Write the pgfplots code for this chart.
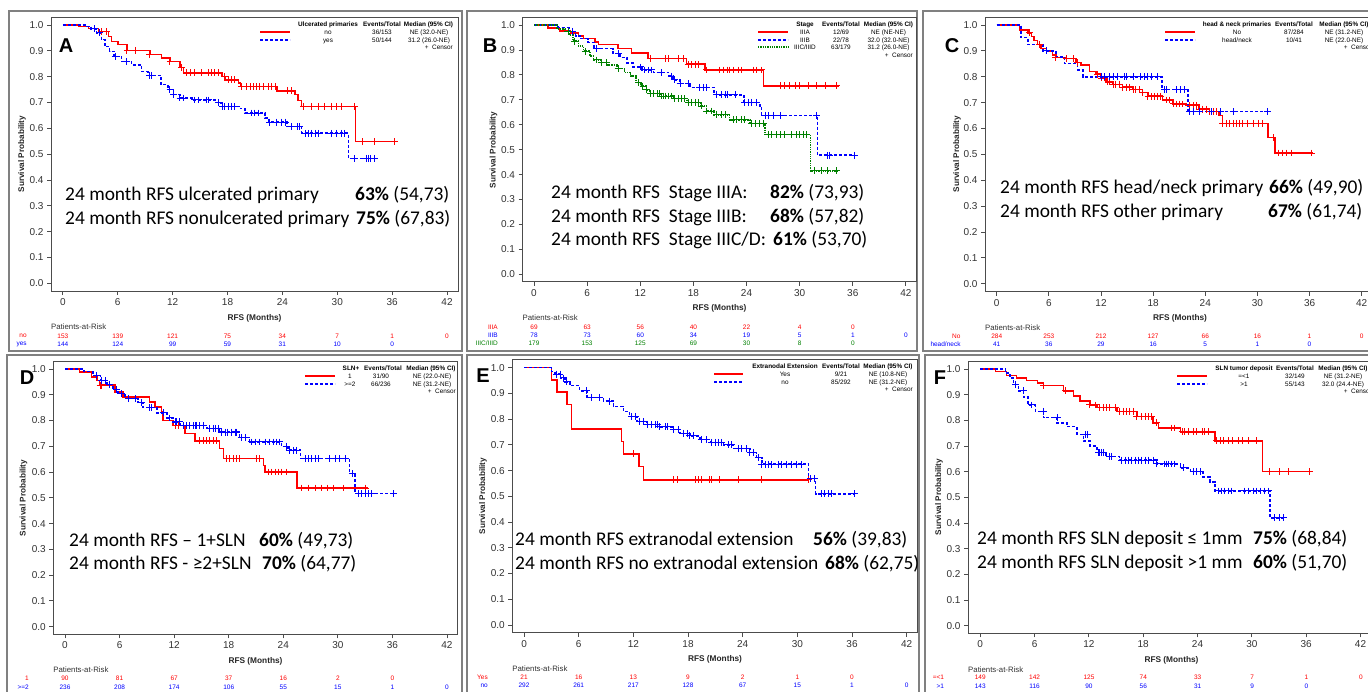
\documentclass[border=0pt]{standalone}
\usepackage{fontspec}
\setmainfont{Liberation Sans}
\newfontfamily\carlito{Carlito}
\usepackage{pgfplots}
\pgfplotsset{compat=1.18}

\definecolor{kmred}{RGB}{255,0,0}
\definecolor{kmblue}{RGB}{0,0,255}
\definecolor{kmgreen}{RGB}{0,128,0}
\definecolor{panelgray}{RGB}{128,128,128}

\newcommand\legf{\fontsize{6.4}{7}\selectfont}
\newcommand\legfb{\fontsize{6.4}{7}\selectfont\bfseries}
\newcommand\riskfont{\fontsize{6.5}{7}\selectfont}
\newcommand\bigtxt{\carlito\fontsize{19.4}{24}\selectfont}

% legend cell: x, baseline y, text
\newcommand\lcell[3]{\node[font=\legf,anchor=base,inner sep=0pt] at (#1pt,-#2pt) {#3};}
\newcommand\lhead[3]{\node[font=\legfb,anchor=base,inner sep=0pt] at (#1pt,-#2pt) {#3};}
% at-risk row: x0, px per 6 months, y, colour, label, values
\newcommand\atrisk[6]{%
  \node[anchor=east,text=#4,font=\riskfont,inner sep=0pt] at ({#1pt-36pt},{-#3pt}) {#5};
  \foreach \val [count=\i from 0] in {#6} {\node[text=#4,font=\riskfont,inner sep=0pt] at ({#1pt+\i*#2pt},{-#3pt}) {\val};}%
}
\newcommand\risktitle[2]{\node[anchor=west,font=\fontsize{7.8}{9}\selectfont,text=black!80,inner sep=0pt] at (#1pt,-#2pt) {Patients-at-Risk};}
\newcommand\xlab[2]{\node[font=\fontsize{8.3}{9}\selectfont\bfseries,text=black!85] at (#1pt,-#2pt) {RFS (Months)};}
\newcommand\ylab[2]{\node[rotate=90,font=\fontsize{8.2}{9}\selectfont\bfseries,text=black!85] at (#1pt,-#2pt) {Survival Probability};}
\newcommand\plabel[3]{\node[font=\fontsize{20}{22}\selectfont\bfseries] at (#1pt,-#2pt) {#3};}
\newcommand\annot[3]{\node[font=\bigtxt,anchor=base west,inner sep=0pt] at (#1pt,-#2pt) {#3};}

\pgfplotsset{
  km/.style={scale only axis, ymin=-0.03, ymax=1.031,
    xtick={0,6,...,42}, ytick={0,0.1,0.2,0.3,0.4,0.5,0.6,0.7,0.8,0.9,1},
    tick pos=left, tick align=outside, major tick length=4pt,
    axis line style={black!70,line width=0.9pt},
    every tick/.style={black!70,line width=0.9pt},
    yticklabel style={/pgf/number format/.cd,fixed,fixed zerofill,precision=1},
    /pgf/number format/assume math mode=true,
    tick label style={font=\fontsize{10}{12}\selectfont,text=black!80},
    anchor=north west},
  sred/.style={const plot, kmred, line width=1.5pt, mark=none},
  sblue/.style={const plot, kmblue, line width=1.5pt, mark=none, dash pattern=on 3pt off 2pt},
  sgreen/.style={const plot, kmgreen, line width=1.5pt, mark=none, dash pattern=on 1.3pt off 1pt},
  cred/.style={only marks, mark=+, mark size=3.4pt, kmred, mark options={line width=1pt,solid}},
  cblue/.style={only marks, mark=+, mark size=3.4pt, kmblue, mark options={line width=1pt,solid}},
  cgreen/.style={only marks, mark=+, mark size=3.4pt, kmgreen, mark options={line width=1pt,solid}},
}

\begin{document}
\begin{tikzpicture}
\useasboundingbox (0,0) rectangle (1368pt,-691pt);
\clip (0,0) rectangle (1368pt,-691pt);
\fill[white] (0,0) rectangle (1368pt,-691pt);

% panel frames
\begin{scope}[draw=panelgray, line width=1.5pt]
\draw (9pt,-11pt) rectangle (462pt,-351pt);
\draw (467pt,-11pt) rectangle (917pt,-351pt);
\draw (923pt,-11pt) rectangle (1390pt,-351pt);
\draw (7pt,-355pt) rectangle (462pt,-700pt);
\draw (467pt,-355pt) rectangle (919pt,-700pt);
\draw (925pt,-355pt) rectangle (1390pt,-700pt);
\end{scope}

%%%%%%%%%%%%%%%% A
\begin{axis}[km, at={(51pt,-17pt)}, width=407pt, height=274pt, xmin=-1.3, xmax=43.2]
\addplot[sred] coordinates {(0,1)(1.7,0.995)(2.8,0.986)(3.9,0.975)(5.0,0.956)(5.3,0.937)(6.05,0.924)(7.0,0.902)(9.5,0.885)(10.8,0.872)(11.7,0.859)(12.8,0.836)(13.2,0.815)(17.4,0.80)(17.7,0.788)(19.2,0.775)(19.4,0.762)(23.4,0.745)(25.4,0.73)(25.7,0.707)(26.1,0.685)(32.0,0.549)(36.5,0.549)};
\addplot[sblue] coordinates {(0,1)(2.6,0.995)(3.1,0.985)(3.7,0.97)(4.2,0.943)(4.6,0.917)(5.1,0.898)(5.6,0.879)(6.4,0.859)(7.5,0.846)(8.6,0.82)(9.3,0.805)(10.7,0.769)(11.5,0.75)(12.1,0.73)(12.8,0.717)(14.1,0.71)(17.0,0.698)(17.4,0.685)(19.4,0.676)(19.9,0.659)(22.1,0.64)(22.5,0.624)(24.5,0.607)(26.1,0.581)(31.2,0.484)(34.3,0.484)};
\addplot[cred] coordinates {(4.2,0.975)(4.8,0.975)(7.0,0.902)(7.9,0.902)(9.5,0.885)(11.7,0.859)(13.0,0.836)(13.5,0.815)(13.9,0.815)(14.4,0.815)(15.2,0.815)(15.9,0.815)(16.3,0.815)(16.6,0.815)(17.0,0.815)(17.7,0.80)(18.1,0.788)(18.4,0.788)(18.8,0.788)(19.5,0.762)(20.1,0.762)(20.5,0.762)(20.8,0.762)(21.2,0.762)(21.5,0.762)(21.9,0.762)(22.5,0.762)(22.8,0.762)(23.2,0.762)(24.6,0.745)(25.0,0.745)(26.3,0.685)(27.2,0.685)(27.9,0.685)(28.6,0.685)(29.4,0.685)(29.9,0.685)(30.5,0.685)(31.9,0.685)(32.8,0.549)(34.1,0.549)(36.3,0.549)};
\addplot[cblue] coordinates {(3.5,0.985)(4.0,0.97)(5.7,0.879)(7.0,0.859)(9.5,0.805)(9.7,0.805)(11.7,0.75)(12.1,0.73)(12.8,0.717)(13.2,0.717)(14.4,0.71)(14.8,0.71)(15.7,0.71)(15.9,0.71)(17.0,0.698)(17.4,0.685)(17.7,0.685)(18.1,0.685)(18.4,0.685)(18.8,0.685)(20.6,0.659)(21.0,0.659)(21.4,0.659)(22.6,0.624)(23.4,0.624)(23.9,0.624)(24.3,0.624)(25.0,0.607)(25.6,0.607)(25.9,0.607)(26.5,0.581)(26.8,0.581)(27.2,0.581)(27.6,0.581)(27.9,0.581)(29.4,0.581)(29.9,0.581)(30.5,0.581)(30.8,0.581)(31.9,0.484)(33.2,0.484)(33.4,0.484)(33.6,0.484)(34.1,0.484)};
\end{axis}
\plabel{66}{46}{A}
\ylab{22}{154}
\xlab{254.5}{318}
\lhead{328}{26}{Ulcerated primaries}\lhead{382}{26}{Events/Total}\lhead{428.5}{26}{Median (95\% CI)}
\draw[kmred,line width=1.4pt] (260pt,-32pt)--(290pt,-32pt);
\draw[kmblue,line width=1.4pt,dash pattern=on 3pt off 2pt] (260pt,-40pt)--(290pt,-40pt);
\lcell{328}{34}{no}\lcell{382}{34}{36/153}\lcell{429}{34}{NE (32.0-NE)}
\lcell{328}{42}{yes}\lcell{382}{42}{50/144}\lcell{429}{42}{31.2 (26.0-NE)}
\node[font=\legf,anchor=base east,inner sep=0pt] at (453pt,-49pt) {+\ \ Censor};
\annot{65}{200}{24 month RFS ulcerated primary}
\annot{355}{200}{\textbf{63\%} (54,73)}
\annot{65}{224}{24 month RFS nonulcerated primary}
\annot{356}{224}{\textbf{75\%} (67,83)}
\risktitle{51}{327}
\atrisk{62.9}{54.86}{336}{kmred}{no}{153,139,121,75,34,7,1,0}
\atrisk{62.9}{54.86}{344}{kmblue}{yes}{144,124,99,59,31,10,0}

%%%%%%%%%%%%%%%% B
\begin{axis}[km, at={(522.5pt,-17.3pt)}, width=394pt, height=264.5pt, xmin=-1.3, xmax=43.2]
\addplot[sred] coordinates {(0,1)(1.6,0.988)(2.9,0.977)(4.1,0.968)(5.0,0.955)(5.6,0.945)(6.9,0.932)(7.3,0.921)(9.5,0.905)(11.0,0.888)(12.9,0.865)(17.2,0.843)(19.3,0.82)(25.9,0.756)(34.4,0.756)};
\addplot[sblue] coordinates {(0,1)(2.7,0.99)(4.0,0.975)(4.7,0.955)(5.3,0.945)(6.1,0.93)(6.8,0.905)(8.9,0.885)(9.7,0.87)(10.5,0.847)(11.2,0.832)(12.2,0.82)(13.5,0.81)(15.2,0.795)(15.7,0.78)(16.5,0.765)(17.6,0.75)(20.3,0.73)(20.6,0.72)(23.7,0.69)(25.5,0.67)(25.7,0.638)(32.0,0.478)(36.2,0.478)};
\addplot[sgreen] coordinates {(0,1)(2.6,0.985)(3.5,0.975)(4.0,0.96)(4.4,0.935)(5.0,0.915)(5.6,0.895)(6.3,0.875)(6.7,0.86)(7.5,0.85)(8.3,0.84)(9.4,0.825)(10.2,0.81)(10.9,0.795)(11.5,0.77)(12.1,0.755)(12.7,0.74)(13.1,0.725)(14.3,0.715)(15.8,0.705)(17.3,0.69)(18.8,0.675)(19.5,0.655)(20.3,0.64)(22.1,0.62)(24.4,0.605)(26.1,0.56)(31.2,0.415)(34.2,0.415)};
\addplot[cred] coordinates {(13.1,0.865)(14.8,0.865)(15.2,0.865)(16.3,0.865)(16.9,0.865)(17.4,0.843)(17.8,0.843)(18.2,0.843)(18.6,0.843)(19.5,0.82)(21.0,0.82)(21.4,0.82)(21.8,0.82)(22.1,0.82)(22.5,0.82)(23.1,0.82)(23.4,0.82)(24.8,0.82)(25.1,0.82)(25.7,0.82)(27.8,0.756)(28.3,0.756)(28.9,0.756)(29.5,0.756)(30.0,0.756)(31.0,0.756)(31.9,0.756)(32.9,0.756)(34.2,0.756)};
\addplot[cblue] coordinates {(4.4,0.975)(7.1,0.905)(9.5,0.885)(12.0,0.832)(12.5,0.82)(12.9,0.82)(13.3,0.82)(14.4,0.81)(15.5,0.795)(15.9,0.78)(16.5,0.765)(17.4,0.765)(18.7,0.75)(19.1,0.75)(19.5,0.75)(20.6,0.72)(21.2,0.72)(21.6,0.72)(21.9,0.72)(22.7,0.72)(23.8,0.69)(24.2,0.69)(24.6,0.69)(25.1,0.69)(26.1,0.638)(26.5,0.638)(27.0,0.638)(27.8,0.638)(31.9,0.638)(33.2,0.478)(33.4,0.478)(36.2,0.478)};
\addplot[cgreen] coordinates {(3.9,0.975)(4.6,0.935)(5.8,0.895)(7.1,0.86)(7.6,0.85)(8.2,0.85)(9.5,0.825)(11.8,0.77)(12.3,0.755)(12.7,0.74)(13.1,0.725)(13.5,0.725)(13.9,0.725)(14.2,0.725)(14.4,0.715)(14.6,0.715)(14.8,0.715)(15.2,0.715)(15.5,0.715)(15.9,0.705)(16.3,0.705)(16.7,0.705)(17.0,0.705)(17.4,0.69)(17.8,0.69)(18.2,0.69)(18.6,0.69)(18.9,0.675)(19.5,0.655)(20.1,0.655)(20.6,0.64)(21.2,0.64)(21.6,0.64)(22.5,0.62)(22.9,0.62)(23.4,0.62)(23.8,0.62)(24.6,0.605)(25.0,0.605)(25.5,0.605)(25.9,0.605)(26.5,0.56)(26.8,0.56)(27.4,0.56)(27.8,0.56)(28.3,0.56)(29.1,0.56)(29.7,0.56)(30.0,0.56)(30.4,0.56)(30.8,0.56)(31.7,0.415)(32.5,0.415)(33.2,0.415)(34.2,0.415)};
\end{axis}
\plabel{490}{46}{B}
\ylab{493.5}{150}
\xlab{719.5}{308}
\lhead{805}{26}{Stage}\lhead{841}{26}{Events/Total}\lhead{888.5}{26}{Median (95\% CI)}
\draw[kmred,line width=1.4pt] (758pt,-32pt)--(788pt,-32pt);
\draw[kmblue,line width=1.4pt,dash pattern=on 3pt off 2pt] (758pt,-40pt)--(788pt,-40pt);
\draw[kmgreen,line width=1.4pt,dash pattern=on 1.3pt off 1pt] (758pt,-47pt)--(788pt,-47pt);
\lcell{805}{34}{IIIA}\lcell{841}{34}{12/69}\lcell{888.5}{34}{NE (NE-NE)}
\lcell{805}{42}{IIIB}\lcell{841}{42}{22/78}\lcell{888.5}{42}{32.0 (32.0-NE)}
\lcell{805}{49.5}{IIIC/IIID}\lcell{841}{49.5}{63/179}\lcell{888.5}{49.5}{31.2 (26.0-NE)}
\node[font=\legf,anchor=base east,inner sep=0pt] at (913pt,-57pt) {+\ \ Censor};
\annot{551}{198}{24 month RFS\ \ Stage IIIA:}
\annot{770}{198}{\textbf{82\%} (73,93)}
\annot{551}{222}{24 month RFS\ \ Stage IIIB:}
\annot{770}{222}{\textbf{68\%} (57,82)}
\annot{551}{245}{24 month RFS\ \ Stage IIIC/D:}
\annot{773}{245}{\textbf{61\%} (53,70)}
\risktitle{522.5}{318}
\atrisk{534}{53.14}{327}{kmred}{IIIA}{69,63,56,40,22,4,0}
\atrisk{534}{53.14}{335}{kmblue}{IIIB}{78,73,60,34,19,5,1,0}
\atrisk{534}{53.14}{343}{kmgreen}{IIIC/IIID}{179,153,125,69,30,8,0}

%%%%%%%%%%%%%%%% C
\begin{axis}[km, at={(985pt,-17pt)}, width=390.6pt, height=274.5pt, xmin=-1.35, xmax=43.6]
\addplot[sred] coordinates {(0,1)(2.6,0.98)(3.6,0.97)(4.0,0.955)(4.3,0.94)(4.7,0.925)(5.1,0.91)(5.7,0.9)(6.4,0.885)(6.8,0.875)(8.0,0.87)(9.1,0.855)(9.7,0.845)(10.7,0.82)(11.4,0.81)(12.0,0.795)(12.6,0.78)(13.4,0.77)(14.5,0.76)(15.7,0.75)(16.8,0.74)(17.4,0.725)(19.1,0.71)(20.3,0.695)(21.8,0.69)(23.3,0.675)(24.5,0.665)(25.6,0.65)(26.0,0.62)(31.2,0.565)(32.0,0.505)(36.4,0.505)};
\addplot[sblue] coordinates {(0,1)(2.8,0.952)(3.6,0.925)(5.3,0.90)(6.8,0.877)(7.8,0.852)(9.3,0.826)(9.9,0.80)(19.0,0.75)(22.0,0.665)(31.2,0.665)};
\addplot[cred] coordinates {(3.8,0.97)(4.9,0.925)(5.7,0.9)(6.8,0.875)(8.0,0.87)(8.8,0.87)(9.3,0.855)(11.6,0.81)(12.0,0.795)(12.4,0.795)(12.8,0.78)(13.0,0.78)(13.4,0.77)(13.7,0.77)(14.1,0.77)(14.5,0.76)(14.9,0.76)(15.3,0.76)(15.7,0.75)(16.0,0.75)(16.4,0.75)(16.8,0.74)(17.4,0.725)(17.8,0.725)(18.2,0.725)(18.5,0.725)(18.9,0.725)(19.5,0.71)(19.9,0.71)(20.3,0.695)(20.7,0.695)(21.0,0.695)(21.4,0.695)(22.2,0.69)(22.6,0.69)(23.0,0.69)(23.3,0.675)(23.7,0.675)(24.1,0.675)(24.5,0.665)(24.9,0.665)(25.3,0.665)(26.0,0.62)(26.4,0.62)(26.8,0.62)(27.2,0.62)(27.6,0.62)(27.9,0.62)(28.3,0.62)(28.9,0.62)(29.5,0.62)(30.1,0.62)(30.6,0.62)(31.8,0.565)(32.4,0.505)(32.9,0.505)(33.3,0.505)(33.9,0.505)(36.2,0.505)};
\addplot[cblue] coordinates {(5.7,0.9)(12.0,0.8)(12.4,0.8)(13.0,0.8)(13.4,0.8)(13.9,0.8)(14.7,0.8)(14.9,0.8)(15.7,0.8)(16.6,0.8)(17.0,0.8)(17.4,0.8)(17.8,0.8)(18.5,0.8)(19.3,0.75)(19.5,0.75)(20.7,0.75)(21.2,0.75)(21.6,0.75)(22.2,0.665)(22.6,0.665)(23.3,0.665)(24.7,0.665)(25.8,0.665)(27.2,0.665)(31.2,0.665)};
\end{axis}
\plabel{952}{46}{C}
\ylab{957}{154}
\xlab{1180}{318}
\lhead{1237}{26}{head \& neck primaries}\lhead{1294}{26}{Events/Total}\lhead{1344}{26}{Median (95\% CI)}
\draw[kmred,line width=1.4pt] (1165pt,-32pt)--(1195pt,-32pt);
\draw[kmblue,line width=1.4pt,dash pattern=on 3pt off 2pt] (1165pt,-40pt)--(1195pt,-40pt);
\lcell{1237}{34}{No}\lcell{1294}{34}{87/284}\lcell{1344}{34}{NE (31.2-NE)}
\lcell{1237}{42}{head/neck}\lcell{1294}{42}{10/41}\lcell{1344}{42}{NE (22.0-NE)}
\node[font=\legf,anchor=base east,inner sep=0pt] at (1372pt,-49pt) {+\ \ Censor};
\annot{1000}{193}{24 month RFS head/neck primary}
\annot{1269}{193}{\textbf{66\%} (49,90)}
\annot{1000}{217}{24 month RFS other primary}
\annot{1268}{217}{\textbf{67\%} (61,74)}
\risktitle{985}{328}
\atrisk{996.7}{52.14}{336.5}{kmred}{No}{284,253,212,127,66,16,1,0}
\atrisk{996.7}{52.14}{344}{kmblue}{head/neck}{41,36,29,16,5,1,0}

%%%%%%%%%%%%%%%% D
\begin{axis}[km, at={(53.2pt,-361pt)}, width=404.7pt, height=273.4pt, xmin=-1.3, xmax=43.2]
\addplot[sred] coordinates {(0,1)(1.6,0.988)(2.9,0.969)(3.5,0.956)(3.8,0.937)(5.5,0.911)(6.4,0.891)(9.3,0.872)(9.9,0.852)(10.6,0.833)(10.8,0.80)(11.9,0.781)(13.2,0.749)(14.3,0.721)(17.0,0.691)(17.4,0.652)(21.8,0.625)(22.0,0.60)(25.5,0.538)(33.3,0.538)};
\addplot[sblue] coordinates {(0,1)(2.1,0.99)(3.1,0.975)(3.9,0.955)(4.6,0.94)(5.3,0.92)(5.8,0.905)(6.6,0.885)(8.0,0.87)(8.6,0.85)(10.1,0.83)(11.2,0.81)(11.9,0.795)(12.7,0.78)(15.6,0.77)(17.0,0.755)(19.2,0.735)(20.3,0.717)(23.8,0.70)(24.5,0.685)(25.9,0.652)(31.3,0.594)(31.9,0.516)(36.3,0.516)};
\addplot[cred] coordinates {(3.85,0.937)(4.0,0.937)(12.1,0.781)(12.5,0.781)(13.0,0.781)(14.8,0.721)(15.2,0.721)(15.6,0.721)(15.9,0.721)(16.3,0.721)(16.7,0.721)(17.8,0.652)(18.1,0.652)(18.5,0.652)(18.9,0.652)(19.2,0.652)(21.1,0.652)(21.4,0.652)(22.4,0.60)(22.7,0.60)(23.1,0.60)(23.5,0.60)(23.8,0.60)(24.4,0.60)(26.0,0.538)(26.8,0.538)(27.5,0.538)(28.2,0.538)(28.9,0.538)(29.5,0.538)(30.6,0.538)(33.0,0.538)};
\addplot[cblue] coordinates {(3.5,0.975)(4.0,0.955)(4.4,0.955)(4.9,0.94)(5.7,0.92)(6.2,0.905)(7.0,0.885)(7.7,0.885)(8.4,0.87)(9.3,0.85)(9.5,0.85)(10.8,0.83)(11.5,0.81)(12.1,0.795)(12.3,0.795)(12.6,0.795)(13.0,0.78)(13.4,0.78)(13.7,0.78)(14.1,0.78)(14.3,0.78)(14.5,0.78)(14.8,0.78)(15.2,0.78)(15.9,0.77)(16.3,0.77)(16.5,0.77)(16.9,0.77)(17.2,0.755)(17.6,0.755)(17.9,0.755)(18.3,0.755)(18.7,0.755)(18.9,0.755)(19.4,0.735)(19.8,0.735)(20.5,0.717)(20.9,0.717)(21.4,0.717)(22.0,0.717)(22.5,0.717)(22.9,0.717)(23.3,0.717)(23.6,0.717)(24.4,0.70)(24.7,0.685)(25.1,0.685)(25.5,0.685)(26.4,0.652)(26.8,0.652)(27.1,0.652)(27.5,0.652)(27.9,0.652)(29.1,0.652)(29.7,0.652)(30.2,0.652)(30.8,0.652)(31.6,0.594)(32.3,0.516)(32.6,0.516)(33.0,0.516)(33.4,0.516)(33.7,0.516)(36.1,0.516)};
\end{axis}
\plabel{27}{378}{D}
\ylab{23.5}{498}
\xlab{255.5}{661}
\lhead{351}{370}{SLN+}\lhead{383}{370}{Events/Total}\lhead{431}{370}{Median (95\% CI)}
\draw[kmred,line width=1.4pt] (305pt,-376pt)--(335pt,-376pt);
\draw[kmblue,line width=1.4pt,dash pattern=on 3pt off 2pt] (305pt,-384pt)--(335pt,-384pt);
\lcell{350}{378}{1}\lcell{381}{378}{31/90}\lcell{432}{378}{NE (22.0-NE)}
\lcell{350}{386}{>=2}\lcell{381}{386}{66/236}\lcell{432}{386}{NE (31.2-NE)}
\node[font=\legf,anchor=base east,inner sep=0pt] at (456pt,-393pt) {+\ \ Censor};
\annot{69}{546}{24 month RFS – 1+SLN}
\annot{259}{546}{\textbf{60\%} (49,73)}
\annot{69}{569}{24 month RFS - ≥2+SLN}
\annot{262}{569}{\textbf{70\%} (64,77)}
\risktitle{53.2}{670}
\atrisk{65}{54.57}{678.5}{kmred}{1}{90,81,67,37,16,2,0}
\atrisk{65}{54.57}{687}{kmblue}{>=2}{236,208,174,106,55,15,1,0}

%%%%%%%%%%%%%%%% E
\begin{axis}[km, at={(512.2pt,-359.7pt)}, width=405.4pt, height=273pt, xmin=-1.3, xmax=43.2]
\addplot[sred] coordinates {(0,1)(3.0,0.952)(3.6,0.905)(4.7,0.857)(5.2,0.762)(10.7,0.714)(10.9,0.665)(12.6,0.615)(13.1,0.564)(31.2,0.564)};
\addplot[sblue] coordinates {(0,1)(3.0,0.985)(3.4,0.975)(4.0,0.96)(4.5,0.945)(5.05,0.93)(6.1,0.91)(6.9,0.885)(8.7,0.87)(9.8,0.85)(10.9,0.83)(11.6,0.81)(12.4,0.79)(13.5,0.78)(14.9,0.77)(16.4,0.76)(17.1,0.745)(18.2,0.735)(19.3,0.72)(20.5,0.71)(21.9,0.70)(23.0,0.685)(24.8,0.67)(25.5,0.65)(26.1,0.625)(31.2,0.57)(32.0,0.51)(36.3,0.51)};
\addplot[cred] coordinates {(12.0,0.665)(16.4,0.564)(16.8,0.564)(18.8,0.564)(19.1,0.564)(19.5,0.564)(20.4,0.564)(20.6,0.564)(21.5,0.564)(23.5,0.564)(26.1,0.564)(31.2,0.564)};
\addplot[cblue] coordinates {(3.6,0.975)(3.95,0.975)(4.3,0.96)(4.7,0.945)(6.9,0.91)(7.4,0.885)(8.3,0.885)(9.4,0.87)(11.8,0.81)(12.2,0.81)(12.7,0.79)(13.1,0.79)(13.5,0.78)(14.0,0.78)(14.4,0.78)(14.6,0.78)(14.9,0.77)(15.5,0.77)(15.8,0.77)(16.4,0.76)(16.9,0.76)(17.5,0.745)(17.9,0.745)(18.2,0.735)(18.6,0.735)(19.5,0.72)(20.0,0.72)(20.6,0.71)(21.0,0.71)(21.3,0.71)(21.7,0.71)(22.4,0.70)(22.8,0.70)(23.5,0.685)(23.9,0.685)(24.4,0.685)(24.8,0.67)(25.2,0.67)(25.7,0.65)(26.1,0.625)(26.5,0.625)(26.8,0.625)(27.2,0.625)(27.9,0.625)(28.3,0.625)(28.8,0.625)(29.4,0.625)(29.9,0.625)(30.5,0.625)(31.4,0.57)(31.9,0.57)(32.7,0.51)(33.0,0.51)(33.4,0.51)(33.8,0.51)(36.3,0.51)};
\end{axis}
\plabel{483}{376}{E}
\ylab{483}{496}
\xlab{715}{659}
\lhead{785}{368}{Extranodal Extension}\lhead{841}{368}{Events/Total}\lhead{888}{368}{Median (95\% CI)}
\draw[kmred,line width=1.4pt] (714pt,-374pt)--(743pt,-374pt);
\draw[kmblue,line width=1.4pt,dash pattern=on 3pt off 2pt] (714pt,-382pt)--(743pt,-382pt);
\lcell{785}{376}{Yes}\lcell{841}{376}{9/21}\lcell{888}{376}{NE (10.8-NE)}
\lcell{785}{384}{no}\lcell{841}{384}{85/292}\lcell{888}{384}{NE (31.2-NE)}
\node[font=\legf,anchor=base east,inner sep=0pt] at (913pt,-391pt) {+\ \ Censor};
\annot{515}{545}{24 month RFS extranodal extension}
\annot{813}{545}{\textbf{56\%} (39,83)}
\annot{515}{569}{24 month RFS no extranodal extension}
\annot{825}{569}{\textbf{68\%} (62,75)}
\risktitle{512.2}{668.7}
\atrisk{524}{54.67}{677}{kmred}{Yes}{21,16,13,9,2,1,0}
\atrisk{524}{54.67}{685.5}{kmblue}{no}{292,261,217,128,67,15,1,0}

%%%%%%%%%%%%%%%% F
\begin{axis}[km, at={(968pt,-361pt)}, width=407pt, height=272.4pt, xmin=-1.35, xmax=43.6]
\addplot[sred] coordinates {(0,1)(1.7,0.99)(2.9,0.975)(4.0,0.965)(5.1,0.955)(6.3,0.945)(7.0,0.935)(9.2,0.915)(10.3,0.895)(11.0,0.875)(12.1,0.86)(12.9,0.85)(15.1,0.835)(17.3,0.815)(19.1,0.79)(19.7,0.77)(22.1,0.755)(25.9,0.72)(31.2,0.60)(36.4,0.60)};
\addplot[sblue] coordinates {(0,1)(2.8,0.985)(3.3,0.965)(3.7,0.94)(4.2,0.915)(4.8,0.89)(5.3,0.86)(6.1,0.835)(7.0,0.81)(8.5,0.79)(9.6,0.775)(10.7,0.745)(11.4,0.72)(12.1,0.70)(12.9,0.675)(13.9,0.66)(15.4,0.645)(19.5,0.63)(22.1,0.615)(23.2,0.60)(24.6,0.58)(25.4,0.56)(25.9,0.525)(32.0,0.42)(33.8,0.42)};
\addplot[cred] coordinates {(7.0,0.935)(9.4,0.915)(12.1,0.86)(12.7,0.86)(13.2,0.85)(13.6,0.85)(13.9,0.85)(14.3,0.85)(14.9,0.85)(15.4,0.835)(15.8,0.835)(16.2,0.835)(16.5,0.835)(16.9,0.835)(17.3,0.815)(17.8,0.815)(18.2,0.815)(18.6,0.815)(18.9,0.815)(19.5,0.79)(21.1,0.77)(21.5,0.77)(22.3,0.755)(22.6,0.755)(23.0,0.755)(23.5,0.755)(23.9,0.755)(24.5,0.755)(24.8,0.755)(25.2,0.755)(26.1,0.72)(26.5,0.72)(26.9,0.72)(27.4,0.72)(27.9,0.72)(28.5,0.72)(29.0,0.72)(29.6,0.72)(30.5,0.72)(32.0,0.60)(33.1,0.60)(34.0,0.60)(36.4,0.60)};
\addplot[cblue] coordinates {(3.9,0.94)(4.8,0.915)(5.7,0.86)(7.0,0.835)(8.5,0.81)(11.6,0.745)(11.8,0.745)(11.9,0.745)(13.1,0.675)(13.2,0.675)(13.4,0.675)(13.6,0.675)(14.3,0.66)(14.5,0.66)(15.6,0.645)(16.0,0.645)(16.4,0.645)(16.7,0.645)(17.1,0.645)(17.5,0.645)(17.8,0.645)(18.2,0.645)(18.6,0.645)(19.1,0.645)(19.5,0.63)(20.4,0.63)(20.6,0.63)(20.8,0.63)(21.1,0.63)(21.5,0.63)(22.4,0.615)(23.5,0.60)(23.9,0.60)(24.3,0.60)(26.3,0.525)(26.7,0.525)(27.0,0.525)(27.4,0.525)(27.8,0.525)(29.2,0.525)(29.6,0.525)(30.2,0.525)(30.5,0.525)(30.9,0.525)(31.4,0.525)(31.8,0.525)(32.5,0.42)(33.1,0.42)(33.5,0.42)};
\end{axis}
\plabel{940}{378}{F}
\ylab{939}{497}
\xlab{1171.5}{660}
\lhead{1244}{370}{SLN tumor deposit}\lhead{1295}{370}{Events/Total}\lhead{1343}{370}{Median (95\% CI)}
\draw[kmred,line width=1.4pt] (1177pt,-376pt)--(1207pt,-376pt);
\draw[kmblue,line width=1.4pt,dash pattern=on 3pt off 2pt] (1177pt,-384pt)--(1207pt,-384pt);
\lcell{1244}{378}{=<1}\lcell{1295}{378}{32/149}\lcell{1343}{378}{NE (31.2-NE)}
\lcell{1244}{386}{>1}\lcell{1295}{386}{55/143}\lcell{1343}{386}{32.0 (24.4-NE)}
\node[font=\legf,anchor=base east,inner sep=0pt] at (1372pt,-393pt) {+\ \ Censor};
\annot{977}{544}{24 month RFS SLN deposit ≤ 1mm}
\annot{1253}{544}{\textbf{75\%} (68,84)}
\annot{977}{568}{24 month RFS SLN deposit >1 mm}
\annot{1253}{568}{\textbf{60\%} (51,70)}
\risktitle{968}{669.4}
\atrisk{980.2}{54.38}{677.5}{kmred}{=<1}{149,142,125,74,33,7,1,0}
\atrisk{980.2}{54.38}{686}{kmblue}{>1}{143,116,90,56,31,9,0}
\end{tikzpicture}
\end{document}
